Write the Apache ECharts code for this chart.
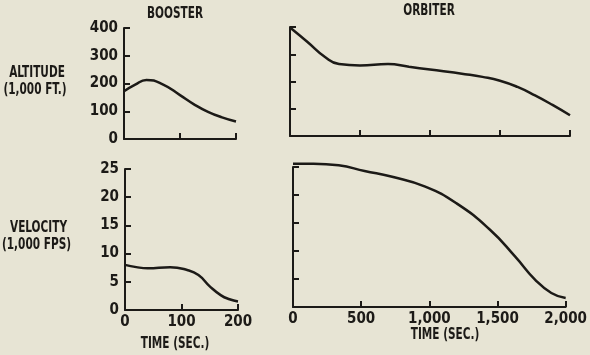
<!DOCTYPE html>
<html>
<head>
<meta charset="utf-8">
<script src="https://cdn.jsdelivr.net/npm/echarts@6/dist/echarts.min.js"></script>
<style>
  html, body { margin: 0; padding: 0; background: #e7e4d4; }
  #chart { width: 590px; height: 355px; }
</style>
</head>
<body>
<div id="chart"></div>
<script>
// values: [time (sec), value]
var boosterAltitude = [[0, 172], [20, 196], [40, 213], [70, 196], [100, 158], [125, 125], [150, 98], [175, 78], [200, 63]];
var boosterVelocity = [[0, 8.0], [20, 7.6], [40, 7.4], [80, 7.6], [110, 7.1], [130, 6.2], [150, 4.2], [170, 2.6], [185, 1.9], [200, 1.5]];
var orbiterAltitude = [[0, 398], [125, 345], [250, 290], [350, 264], [500, 259], [700, 264], [850, 254], [1000, 244], [1250, 227], [1375, 217], [1500, 203], [1625, 180], [1750, 149], [1875, 114], [2000, 76]];
var orbiterVelocity = [[0, 25.6], [150, 25.6], [335, 25.3], [525, 24.3], [735, 23.2], [970, 21.5], [1200, 18.5], [1445, 13.8], [1630, 9.0], [1775, 4.9], [1895, 2.5], [2000, 1.6]];

var ink = '#1c1a17';
var font = '"Liberation Sans Narrow", "DejaVu Sans Condensed", sans-serif';

function xAxis(grid, max, interval, showLabels) {
    return {
        type: 'value', gridIndex: grid, min: 0, max: max, interval: interval,
        axisLine: {lineStyle: {color: ink, width: 2}},
        axisTick: {inside: true, length: 6, lineStyle: {color: ink, width: 2}},
        splitLine: {show: false},
        axisLabel: {
            show: showLabels, color: ink, fontFamily: font, fontWeight: 'bold', fontSize: 15, margin: 5,
            formatter: function (v) { return v.toLocaleString('en-US'); }
        }
    };
}

function yAxis(grid, max, interval, showLabels) {
    return {
        type: 'value', gridIndex: grid, min: 0, max: max, interval: interval,
        axisLine: {show: true, lineStyle: {color: ink, width: 2}},
        axisTick: {show: true, inside: true, length: 6, lineStyle: {color: ink, width: 2}},
        splitLine: {show: false},
        axisLabel: {show: showLabels, color: ink, fontFamily: font, fontWeight: 'bold', fontSize: 15, margin: 6}
    };
}

function line(i, data) {
    return {
        type: 'line', xAxisIndex: i, yAxisIndex: i, data: data,
        smooth: true, showSymbol: false, clip: false,
        lineStyle: {color: ink, width: 2.5}
    };
}

function label(text, x, y) {
    return {
        type: 'text', x: x, y: y, scaleX: 0.78,
        style: {text: text, fill: ink, font: 'bold 15px ' + font, textAlign: 'center', textVerticalAlign: 'middle'}
    };
}

var chart = echarts.init(document.getElementById('chart'));
chart.setOption({
    backgroundColor: '#e7e4d4',
    animation: false,
    grid: [
        {left: 124, top: 28, width: 112, height: 111},
        {left: 290, top: 27, width: 280, height: 109},
        {left: 125, top: 169, width: 113, height: 141},
        {left: 293, top: 167, width: 280, height: 140}
    ],
    xAxis: [
        xAxis(0, 200, 100, false),
        xAxis(1, 2000, 500, false),
        xAxis(2, 200, 100, true),
        xAxis(3, 2000, 500, true)
    ],
    yAxis: [
        yAxis(0, 400, 100, true),
        yAxis(1, 400, 100, false),
        yAxis(2, 25, 5, true),
        yAxis(3, 25, 5, false)
    ],
    series: [
        line(0, boosterAltitude),
        line(1, orbiterAltitude),
        line(2, boosterVelocity),
        line(3, orbiterVelocity)
    ],
    graphic: [
        label('BOOSTER', 175, 14.5),
        label('ORBITER', 429, 11),
        label('ALTITUDE', 37, 73),
        label('(1,000 FT.)', 35, 90),
        label('VELOCITY', 38.5, 228),
        label('(1,000 FPS)', 36.5, 245),
        label('TIME (SEC.)', 175, 344),
        label('TIME (SEC.)', 445, 335.5)
    ]
});
</script>
</body>
</html>
